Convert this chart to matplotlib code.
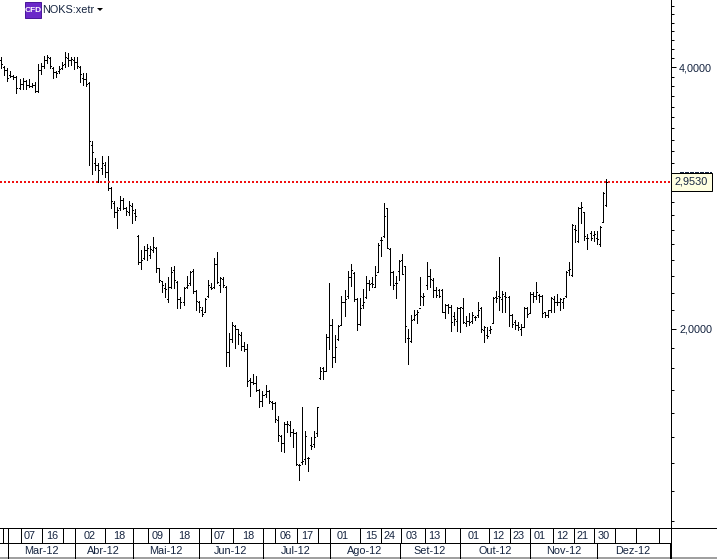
import matplotlib
matplotlib.use('Agg')
import matplotlib.pyplot as plt
from matplotlib.patches import Rectangle, Polygon
from matplotlib.ticker import FixedLocator, NullFormatter
import numpy as np

plt.rcParams['font.family'] = ['Liberation Sans', 'DejaVu Sans']

# OHLC
highs = [4.107,4.011,3.989,3.958,3.916,3.906,3.874,3.885,3.864,3.874,3.834,3.844,4.032,4.043,4.118,4.129,4.107,4.000,3.958,4.011,4.054,4.162,4.151,4.107,4.107,4.107,4.011,3.937,3.937,3.844,3.287,3.143,3.102,3.160,3.110,3.160,2.912,2.806,2.761,2.843,2.828,2.761,2.806,2.791,2.746,
         2.564,2.465,2.491,2.504,2.491,2.551,2.484,2.350,2.265,2.259,2.295,2.356,2.363,2.271,2.177,2.235,2.301,2.332,2.344,2.217,2.154,2.120,2.166,2.277,2.259,2.413,2.452,2.295,2.295,2.241,1.974,2.033,2.017,2.000,1.979,1.928,1.918,1.754,1.772,1.763,1.703,1.694,1.721,1.699,1.650,1.646,1.587,1.509,1.561,1.566,1.566,1.533,1.521,1.398,1.624,1.525,1.424,1.501,1.525,1.624,
         1.806,1.806,1.969,2.259,2.049,1.964,2.017,2.182,2.217,2.332,2.375,2.326,2.171,2.171,2.223,2.301,2.277,2.295,2.363,2.511,2.551,2.791,2.754,2.478,2.332,2.301,2.401,2.439,2.363,2.000,2.071,2.103,2.103,2.295,2.200,2.388,2.344,2.289,2.235,2.223,2.223,2.137,2.137,2.126,2.087,2.120,2.120,2.171,2.065,2.082,2.087,2.065,2.143,2.120,2.011,2.006,2.011,2.177,2.211,2.419,2.211,2.205,2.182,
         2.076,2.044,2.033,2.022,2.120,2.120,2.205,2.205,2.265,2.194,2.188,2.092,2.103,2.177,2.182,2.194,2.171,2.171,2.332,2.388,2.640,2.633,2.761,2.798,2.725,2.571,2.591,2.591,2.591,2.626,2.873,2.974]
lows = [3.989,3.916,3.854,3.895,3.874,3.733,3.773,3.773,3.773,3.793,3.793,3.743,3.743,3.926,3.989,4.043,3.989,3.885,3.895,3.937,3.979,4.000,4.011,4.021,3.979,3.989,3.844,3.814,3.804,3.086,3.013,3.045,2.950,3.013,2.989,2.888,2.754,2.689,2.612,2.739,2.746,2.703,2.703,2.647,2.668,
        2.375,2.344,2.407,2.401,2.413,2.452,2.326,2.265,2.205,2.177,2.148,2.229,2.229,2.109,2.114,2.126,2.229,2.247,2.200,2.103,2.087,2.065,2.087,2.177,2.223,2.229,2.259,2.205,2.235,1.810,1.810,1.928,1.898,1.918,1.888,1.883,1.717,1.672,1.726,1.694,1.624,1.628,1.668,1.641,1.616,1.561,1.485,1.446,1.443,1.521,1.505,1.462,1.394,1.339,1.398,1.398,1.372,1.454,1.462,1.505,
        1.749,1.749,1.786,1.893,1.806,1.830,1.939,2.017,2.065,2.171,2.241,2.154,1.990,2.017,2.114,2.171,2.217,2.235,2.235,2.326,2.426,2.551,2.478,2.247,2.223,2.171,2.277,2.313,1.928,1.820,1.928,2.044,2.027,2.131,2.126,2.223,2.235,2.177,2.177,2.177,2.087,2.054,2.082,1.985,2.017,1.985,1.979,2.027,2.011,2.017,2.027,2.044,2.060,1.979,1.928,1.949,1.974,2.027,2.148,2.103,2.087,2.092,2.011,
        2.006,1.995,1.990,1.964,2.006,2.060,2.087,2.148,2.160,2.148,2.060,2.060,2.060,2.092,2.092,2.126,2.103,2.109,2.177,2.307,2.301,2.517,2.517,2.647,2.531,2.471,2.531,2.524,2.504,2.491,2.654,2.768]
opens = [4.075,4.000,3.968,3.916,3.906,3.895,3.783,3.824,3.854,3.814,3.804,3.814,3.753,3.968,4.011,4.075,4.096,3.989,3.947,3.958,3.989,4.032,4.096,4.075,4.075,4.054,4.000,3.885,3.874,3.834,3.253,3.102,3.086,3.061,3.086,3.029,2.904,2.791,2.725,2.754,2.813,2.754,2.725,2.768,2.718,
         2.558,2.388,2.413,2.465,2.432,2.465,2.478,2.350,2.271,2.229,2.160,2.235,2.338,2.265,2.160,2.148,2.235,2.259,2.332,2.211,2.148,2.098,2.092,2.182,2.235,2.235,2.375,2.247,2.283,2.235,1.878,1.944,2.011,1.995,1.964,1.908,1.893,1.744,1.735,1.731,1.699,1.650,1.681,1.694,1.646,1.641,1.570,1.505,1.477,1.553,1.549,1.521,1.517,1.394,1.405,1.416,1.420,1.469,1.473,1.517,
         1.754,1.801,1.786,1.954,2.017,1.854,1.944,2.017,2.148,2.182,2.295,2.320,2.160,2.022,2.126,2.177,2.259,2.259,2.235,2.326,2.531,2.558,2.754,2.471,2.326,2.259,2.332,2.401,2.363,1.949,1.934,2.049,2.076,2.114,2.177,2.247,2.301,2.277,2.217,2.217,2.217,2.087,2.126,2.120,2.065,2.038,2.109,2.114,2.027,2.038,2.038,2.060,2.071,2.109,1.990,1.964,1.990,2.027,2.177,2.182,2.160,2.182,2.177,
         2.071,2.033,2.017,2.000,2.006,2.114,2.082,2.194,2.182,2.188,2.182,2.087,2.071,2.098,2.160,2.143,2.143,2.148,2.182,2.338,2.307,2.605,2.524,2.754,2.725,2.544,2.578,2.564,2.544,2.504,2.654,2.776]
closes = [4.032,3.968,3.885,3.906,3.895,3.783,3.824,3.854,3.814,3.804,3.814,3.753,3.968,4.011,4.075,4.107,4.011,3.947,3.937,3.979,4.021,4.107,4.075,4.086,4.054,4.011,3.926,3.874,3.824,3.287,3.193,3.086,3.045,3.102,3.029,2.904,2.806,2.725,2.739,2.813,2.754,2.732,2.776,2.739,2.696,
          2.388,2.401,2.465,2.478,2.471,2.484,2.350,2.277,2.247,2.223,2.235,2.326,2.277,2.160,2.148,2.229,2.247,2.326,2.211,2.154,2.120,2.076,2.160,2.247,2.229,2.375,2.265,2.289,2.247,1.878,1.944,2.017,2.000,1.969,1.908,1.893,1.740,1.735,1.731,1.699,1.650,1.677,1.694,1.650,1.641,1.574,1.509,1.477,1.553,1.553,1.521,1.517,1.398,1.391,1.409,1.505,1.420,1.466,1.501,1.624,
          1.786,1.786,1.954,2.017,1.854,1.903,2.011,2.148,2.160,2.295,2.338,2.160,2.022,2.114,2.143,2.259,2.253,2.253,2.307,2.497,2.531,2.696,2.478,2.326,2.247,2.259,2.394,2.313,2.011,1.949,2.044,2.071,2.092,2.182,2.182,2.301,2.283,2.217,2.188,2.182,2.092,2.126,2.120,2.033,2.049,2.114,2.120,2.033,2.038,2.033,2.071,2.060,2.098,1.995,2.006,1.959,1.995,2.166,2.171,2.177,2.194,2.177,2.071,
          2.022,2.017,2.006,2.006,2.114,2.076,2.194,2.182,2.205,2.182,2.082,2.071,2.098,2.171,2.143,2.148,2.160,2.166,2.326,2.344,2.633,2.598,2.754,2.761,2.558,2.544,2.544,2.571,2.538,2.619,2.866,2.953]
last_price = 2.953
labelled_ticks = [2, 4]

# time scale below the chart, pixel columns of the grid
week_edges = [3,8,21,42,63,75,105,133,148,169,199,211,233,263,275,297,318,330,360,381,401,425,445,460,489,510,530,553,574,594,615,636,659]
week_labels = ['07','16','02','18','09','18','07','18','06','17','01','15','24','03','13','01','12','23','01','12','21','30']
week_pos = [30,52,90,119,158,184,220,248,286,307,343,371,390,412,434,474,498,519,540,562,583,604]
month_edges = [8,75,133,199,263,330,400,460,530,597,670]
month_labels = ['Mar-12','Abr-12','Mai-12','Jun-12','Jul-12','Ago-12','Set-12','Out-12','Nov-12','Dez-12']
month_pos = [41,103,166,231,296,365,430,495,564,633]

W, H = 717, 559
TEXT = '#14233f'
fig = plt.figure(figsize=(W/100, H/100), dpi=100)

ax = fig.add_axes([0, (H-528)/H, 671/W, 528/H])
idx = np.arange(len(highs))
ax.vlines(idx, lows, highs, color='black', lw=0.72, antialiased=False)
ax.hlines(opens, idx-0.33, idx, color='black', lw=0.72, antialiased=False)
ax.hlines(closes, idx, idx+0.33, color='black', lw=0.72, antialiased=False)
ax.axhline(last_price, color='#f01010', lw=1.44, linestyle=(0, (1, 1)))

ax.set_yscale('log')
ax.set_ylim(1.1786, 4.778)
ax.set_xlim(-0.428, 220.5)
for s in ['top', 'left', 'bottom']:
    ax.spines[s].set_visible(False)
ax.spines['right'].set_linewidth(0.72)
ax.set_xticks([])
ax.yaxis.tick_right()
ax.yaxis.set_major_locator(FixedLocator(labelled_ticks))
ax.yaxis.set_minor_locator(FixedLocator([v/10 for v in range(12, 48)]))
ax.yaxis.set_major_formatter(lambda v, pos: f'{v:.4f}'.replace('.', ','))
ax.yaxis.set_minor_formatter(NullFormatter())
ax.tick_params(axis='y', which='major', length=3.6, width=0.72, pad=2.2, labelsize=7.8, labelcolor=TEXT)
ax.tick_params(axis='y', which='minor', length=2.2, width=0.72)

# overlay in pixels for the date grid, price flag and title
ov = fig.add_axes([0, 0, 1, 1], zorder=5)
ov.set_xlim(0, W)
ov.set_ylim(H, 0)
ov.axis('off')
ov.patch.set_alpha(0)

ov.plot([0, W], [528, 528], color='black', lw=0.72, antialiased=False)
ov.plot([0, 671], [543, 543], color='black', lw=0.72, antialiased=False)
ov.plot([0, W], [558, 558], color='#a0a0a0', lw=1, antialiased=False)
ov.vlines(week_edges, 528, 543, color='black', lw=0.72, antialiased=False)
ov.vlines(month_edges, 543, 558, color='black', lw=0.72, antialiased=False)
ov.plot([671, 671], [528, 558], color='black', lw=0.72, antialiased=False)
for x, t in zip(week_pos, week_labels):
    ov.text(x, 536, t, ha='center', va='center', fontsize=7.8, color=TEXT)
for x, t in zip(month_pos, month_labels):
    ov.text(x, 551, t, ha='center', va='center', fontsize=7.8, color=TEXT)

# the flag hides a label in the original, only its top row of pixels shows
ov.plot([680, 711], [172, 172], color=TEXT, lw=0.72, linestyle=(0, (4, 2)), antialiased=False)
ov.add_patch(Rectangle((671, 173), 41, 18, fc='#ffffe1', ec='black', lw=0.72))
ov.text(691.5, 182, f'{last_price:.3f}'.replace('.', ',') + '0', ha='center', va='center', fontsize=7.8, color=TEXT)

ov.add_patch(Rectangle((25, 2), 16, 16, fc='#6a28c8', ec='#4a189a', lw=0.72))
ov.text(33, 10, 'CFD', ha='center', va='center', fontsize=6, color='white', fontweight='bold')
ov.text(42, 10, 'NOKS:xetr', ha='left', va='center', fontsize=7.8, color=TEXT)
ov.add_patch(Polygon([(97, 8), (103, 8), (100, 11)], fc='black', ec='none'))

fig.savefig('out.png', dpi=100)
